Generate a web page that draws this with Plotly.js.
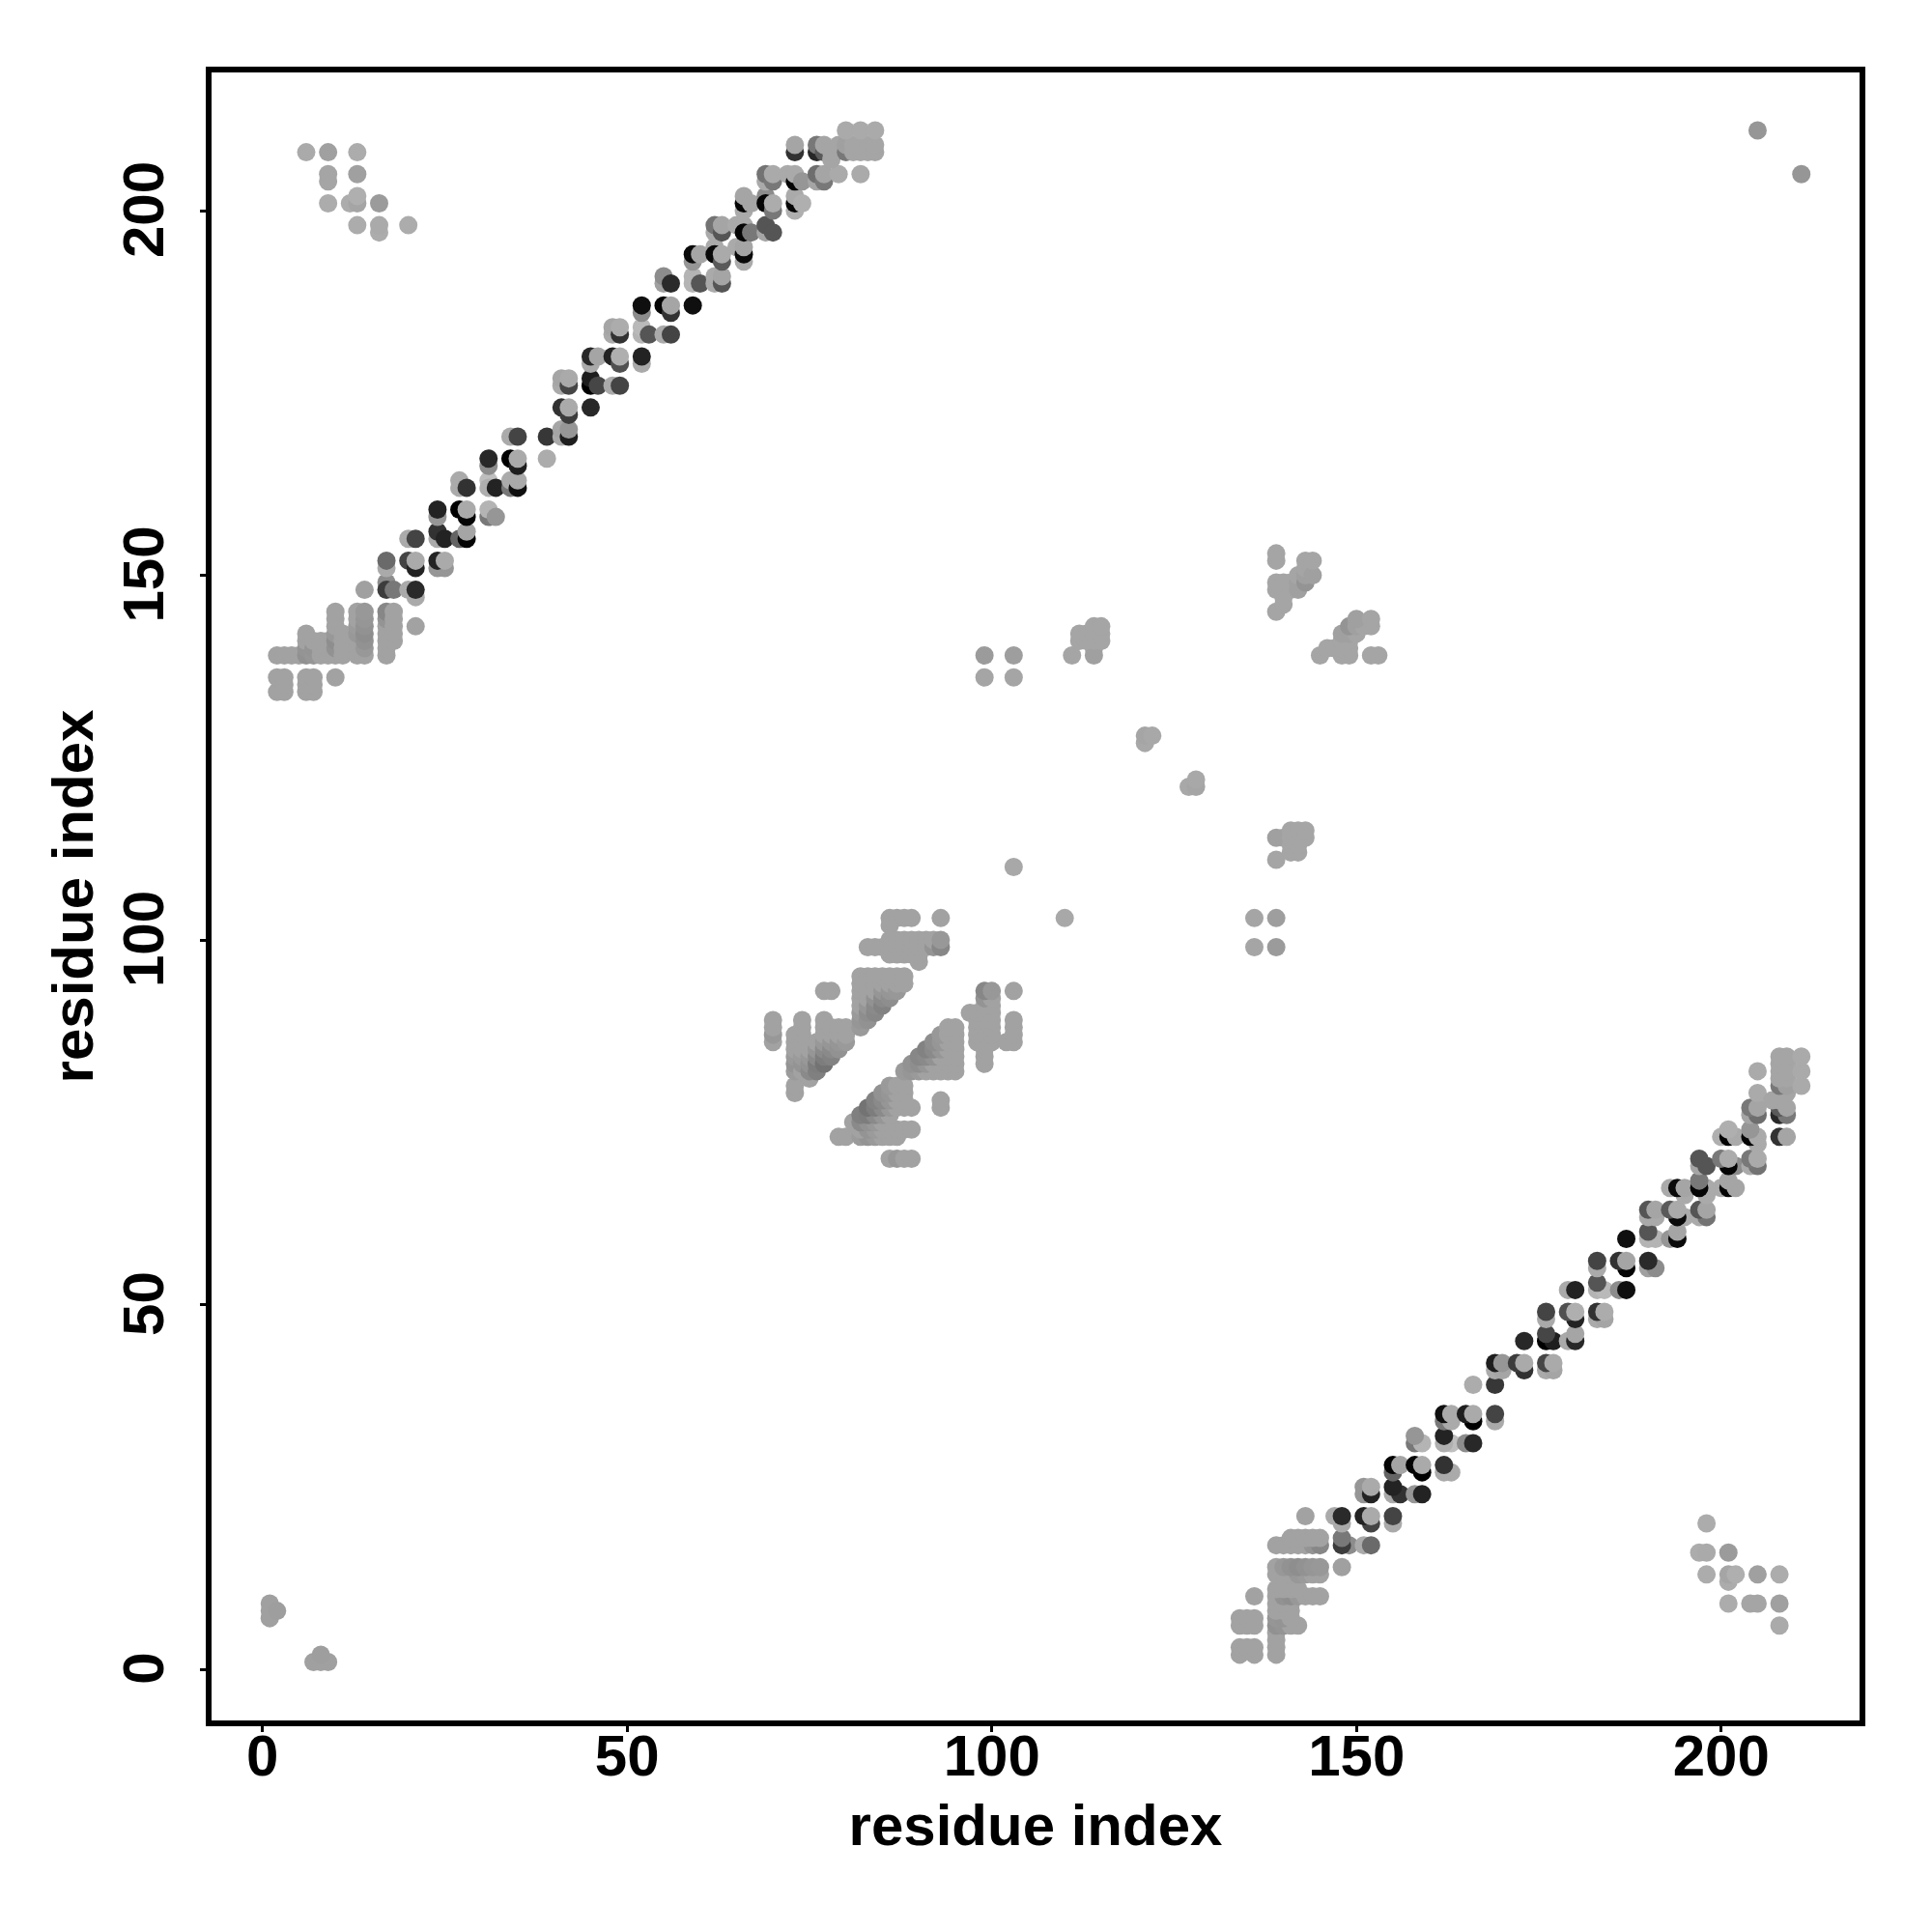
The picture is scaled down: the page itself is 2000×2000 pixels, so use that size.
<!DOCTYPE html>
<html>
<head>
<meta charset="utf-8">
<script src="https://cdn.plot.ly/plotly-3.0.1.min.js"></script>
<style>html,body{margin:0;padding:0;background:#fff}#chart{width:2000px;height:2000px}</style>
</head>
<body>
<div id="chart"></div>
<script>
// Contact map: every entry is a residue pair [i, j, grey]; the matrix is symmetric.
const axisTickValues = [0, 50, 100, 150, 200];
const axisLabel = "residue index";
const blockGrey = 162;

// upper-left band, residue 14..84 against 147..211
const bandContacts = [
[14,148,160],[17,149,140],[17,148,60],[18,148,120],[20,148,170],[21,147,170],[21,148,42],
[17,151,170],[17,152,106],[20,152,68],[21,151,35],[21,152,170],
[24,151,150],[25,151,150],[24,152,35],[25,152,170],
[20,155,170],[21,155,68],[24,155,170],[24,156,50],[25,155,35],
[27,155,100],[28,155,5],[28,156,165],[24,158,150],[24,159,35],
[27,159,0],[28,158,5],[28,159,170],[31,158,120],[31,159,180],[32,158,150],
[27,163,170],[27,162,170],[28,162,50],[31,163,190],[31,162,175],[32,162,35],
[34,162,120],[34,163,170],[35,162,15],[35,163,170],[31,165,140],[31,166,40],
[34,166,0],[35,165,30],[35,166,170],[39,166,172],[34,169,170],[35,169,68],[39,169,55],
[41,169,170],[41,170,165],[42,169,30],[42,170,150],[41,173,50],[42,172,60],[42,173,170],[45,173,40],
[41,176,170],[41,177,165],[42,176,70],[42,177,170],[45,176,0],[45,177,30],[46,176,70],
[48,176,170],[49,176,68],[45,179,170],[45,180,40],[46,180,165],
[48,180,35],[49,179,80],[49,180,175],[52,179,170],[52,180,35],
[48,183,170],[48,184,165],[49,183,50],[49,184,172],[52,183,180],[52,184,185],[53,183,85],
[55,183,170],[56,183,68],[52,186,140],[52,187,15],[55,187,5],[56,186,50],[56,187,165],[59,187,15],
[55,190,160],[55,191,140],[56,190,42],[59,191,180],[59,190,180],[60,190,85],
[62,190,170],[62,191,170],[63,190,85],[63,191,165],[59,193,150],[59,194,10],[60,194,165],
[62,195,170],[62,194,10],[63,193,90],[63,194,170],[65,195,170],[66,193,170],[66,194,10],[66,195,165],
[62,197,170],[62,198,115],[63,197,85],[63,198,165],[65,198,170],[66,198,170],[66,197,5],[67,197,120],
[69,197,165],[69,198,85],[70,197,85],[66,200,170],[66,201,5],[66,202,165],[67,201,165],
[69,202,140],[69,201,5],[70,200,120],[70,201,172],[73,200,175],[73,201,5],[73,202,170],[74,201,175],
[69,204,170],[69,205,115],[70,204,120],[70,205,170],[72,205,170],[73,204,5],[73,205,170],[74,204,150],
[76,204,165],[76,205,110],[77,204,120],[77,205,165],[79,205,170],[82,205,170],
[73,208,50],[73,209,165],[76,208,40],[76,209,120],[77,208,90],[77,209,165],
[78,207,165],[78,208,165],[79,209,165],[80,208,120],[80,209,160],[81,208,165],[81,209,165],
[82,208,165],[82,209,165],[83,208,165],[83,209,165],[84,208,165],[84,209,165],
[80,211,170],[82,211,170],[84,211,170]
];

// dense block at the start of the band: [i, [j...]]
const startBlock = [
[2,[139,136,134]],[3,[139,136,135,134]],[4,[139]],[5,[139]],
[6,[142,141,140,139,136,135,134]],[7,[141,140,139,136,135,134]],[8,[141,140,139]],[9,[141,140,139]],
[10,[145,144,143,142,141,140,139,136]],[11,[142,141,140,139]],
[13,[145,144,143,142,141,140,139]],[14,[145,144,143,142,141,140,139]],
[17,[145,144,143,142,141,140,139]],[18,[145,144,143,142,141]],[21,[143]]
];
// darker cells inside the blocks: [i, j, grey]
const startShades = [
[17,145,135],[17,144,148],[14,145,152],[14,144,150],[14,143,146],[14,142,142],[14,141,146],[14,140,152],
[13,143,155],[13,142,152],[10,141,142],[10,140,146],[10,142,152],[6,139,145],[6,140,148],[7,140,148],[7,139,150]
];

// central anti-parallel cluster: [i, [j...]]
const centralBlock = [
[70,[86,87,88,89]],[73,[79,80,82,83,84,85,86,87]],[74,[82,83,84,85,86,87,88,89]],
[75,[81,82,83,84,85]],[76,[82,83,84,85,86]],[77,[83,84,85,86,87,88,89,93]],
[78,[84,85,86,87,88,93]],[79,[85,86,87,88]],[80,[86,87,88]],
[82,[88,89,90,91,92,93,94,95]],[83,[89,90,91,92,93,94,95,99]],[84,[90,91,92,93,94,95,99]],
[85,[91,92,93,94,95,99]],[86,[92,93,94,95,98,99,100,102,103]],[87,[93,94,95,98,99,100,103]],
[88,[94,95,98,99,100,103]],[89,[98,99,100,103]],[90,[97,98,99,100]],
[91,[99,100]],[92,[99,100]],[93,[99,100,103]]
];
const centralShades = [
[70,87,152],[73,82,155],[73,83,148],[73,84,154],[74,83,148],[74,84,155],
[75,82,138],[75,83,146],[75,84,152],[76,82,128],[76,83,125],[76,84,138],[76,85,150],
[77,83,115],[77,84,125],[77,85,138],[77,86,152],[78,84,130],[78,85,138],[78,86,150],
[79,85,146],[79,86,150],[80,86,154],
[82,88,154],[82,89,150],[82,90,154],[83,89,146],[83,90,142],[83,91,150],
[84,90,135],[84,91,138],[84,92,146],[85,91,130],[85,92,138],[85,93,150],[86,92,142],[86,93,150],[87,93,152],
[92,99,148],[93,99,135],[93,100,152]
];

// small isolated contacts
const sparseContacts = [
[1,7,160],[1,8,160],[1,9,160],[2,8,158],
[6,208,170],[9,208,160],[13,208,172],[9,204,165],[9,205,165],[13,205,160],[9,201,172],[12,201,172],
[13,201,165],[13,202,175],[16,201,155],[13,198,172],[16,197,172],[16,198,170],[20,198,172],
[99,139,155],[103,139,158],[99,136,165],[103,136,165],[103,110,168],
[111,139,165],[114,139,160],[114,140,160],[112,141,165],[113,141,165],[114,141,165],[115,141,165],
[112,142,165],[113,142,165],[114,142,165],[115,142,165],[114,143,165],[115,143,165],
[121,127,168],[121,128,165],[122,128,168],
[139,145,165],[139,148,165],[139,149,165],[139,152,165],[139,153,165],[140,146,165],[140,147,165],
[140,148,165],[140,149,165],[141,148,165],[141,149,165],[142,148,160],[142,149,160],[142,150,165],
[143,149,148],[143,150,160],[143,151,165],[143,152,165],[144,150,160],[144,152,165],
[205,211,150]
];

function expand(block, shades, grey) {
  const lookup = {};
  shades.forEach(function (s) { lookup[s[0] + "," + s[1]] = s[2]; });
  const out = [];
  block.forEach(function (col) {
    col[1].slice().sort(function (a, b) { return a - b; }).forEach(function (j) {
      const k = col[0] + "," + j;
      out.push([col[0], j, k in lookup ? lookup[k] : grey]);
    });
  });
  return out;
}
const contacts = [].concat(
  bandContacts, expand(startBlock, startShades, blockGrey),
  expand(centralBlock, centralShades, blockGrey), sparseContacts
);
const xs = [], ys = [], cols = [];
contacts.forEach(function (c) {
  xs.push(c[0]); ys.push(c[1]); cols.push("rgb(" + c[2] + "," + c[2] + "," + c[2] + ")");
});
contacts.forEach(function (c) {
  xs.push(c[1]); ys.push(c[0]); cols.push("rgb(" + c[2] + "," + c[2] + "," + c[2] + ")");
});

const font = {family: '"Liberation Sans", Arial, sans-serif', size: 60, color: "#000", weight: 700};
function axis(range, angle, labelStandoff, labelShift, titleStandoff) {
  return {
    range: range, tickmode: "array", tickvals: axisTickValues, ticktext: axisTickValues.map(String),
    ticks: "outside", ticklen: 6, tickwidth: 3, tickcolor: "#000",
    showline: true, linewidth: 6, linecolor: "#000", mirror: true,
    showgrid: false, zeroline: false, automargin: false,
    tickangle: angle, tickfont: font, ticklabelstandoff: labelStandoff, ticklabelshift: labelShift,
    title: {text: axisLabel, font: font, standoff: titleStandoff}
  };
}
Plotly.newPlot("chart", [{
  type: "scatter", mode: "markers", x: xs, y: ys, hoverinfo: "skip",
  marker: {size: 19, color: cols, line: {width: 0}}
}], {
  width: 2000, height: 2000, showlegend: false,
  paper_bgcolor: "#fff", plot_bgcolor: "#fff",
  margin: {l: 219, r: 75, t: 75, b: 219},
  xaxis: axis([-6.98, 218.98], 0, -27, 0, 20),
  yaxis: axis([-7.02, 218.94], -90, 14, 8, 1)
}, {displayModeBar: false, staticPlot: true});
</script>
</body>
</html>
